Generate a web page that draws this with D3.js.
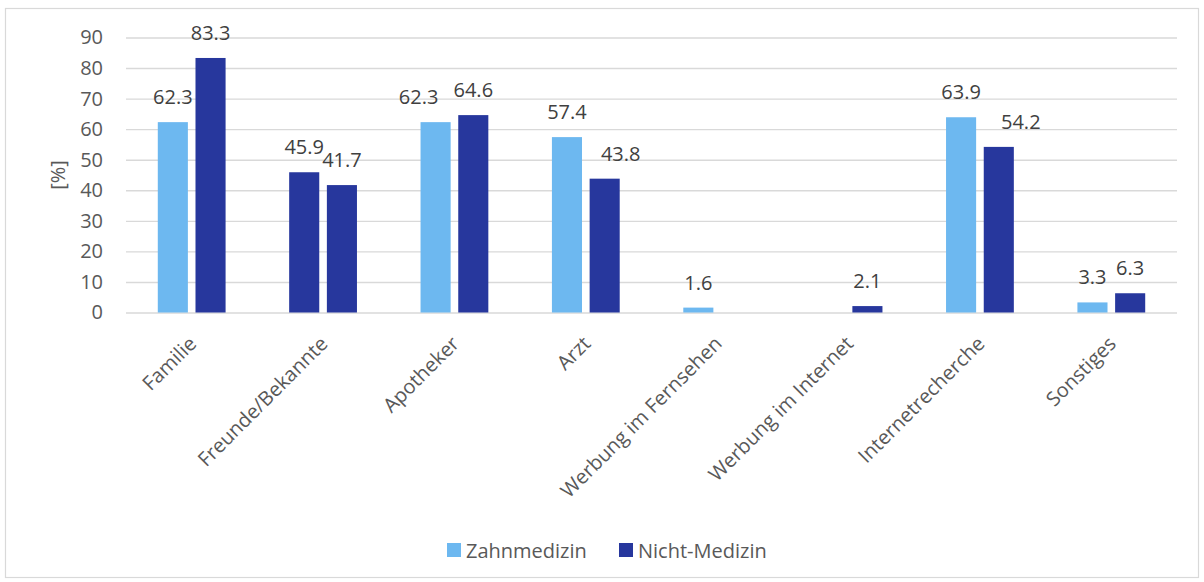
<!DOCTYPE html>
<html>
<head>
<meta charset="utf-8">
<script src="https://cdn.jsdelivr.net/npm/d3@7/dist/d3.min.js"></script>
<style>
  html, body { margin: 0; padding: 0; background: #fff; }
  svg { display: block; font-family: "Open Sans", "Noto Sans", sans-serif; }
</style>
</head>
<body>
<svg id="chart" width="1204" height="582"></svg>
<script>
// Sources of information, share of respondents per group (%)
const categories = ["Familie", "Freunde/Bekannte", "Apotheker", "Arzt",
  "Werbung im Fernsehen", "Werbung im Internet", "Internetrecherche", "Sonstiges"];
const seriesNames = ["Zahnmedizin", "Nicht-Medizin"];
const zahnmedizin  = [62.3, 45.9, 62.3, 57.4, 1.6, null, 63.9, 3.3];
const nichtMedizin = [83.3, 41.7, 64.6, 43.8, null, 2.1, 54.2, 6.3];
const yTicks = [0, 10, 20, 30, 40, 50, 60, 70, 80, 90];

// Styling
const colors = { "Zahnmedizin": "#6db8f0", "Nicht-Medizin": "#27379d" };
// individual bar fill that differs from its series colour
const fillOverride = { "Freunde/Bekannte|Zahnmedizin": "#27379d" };
// horizontal nudges for data labels that would otherwise collide
const labelNudge = {
  "Apotheker|Zahnmedizin": -17,
  "Arzt|Nicht-Medizin": 16,
  "Internetrecherche|Nicht-Medizin": 22
};
const fontSize = 20;

const svg = d3.select("#chart");
const plot = { left: 126, right: 1177, top: 37.5, bottom: 312.5 };

// outer frame
svg.append("rect")
  .attr("x", 5.5).attr("y", 8.5).attr("width", 1193).attr("height", 569)
  .attr("fill", "#fff").attr("stroke", "#d9d9d9").attr("stroke-width", 1.2);

const x = d3.scaleBand().domain(categories)
  .range([plot.left, plot.right]).paddingInner(0).paddingOuter(0);
const y = d3.scaleLinear().domain([0, 90]).range([plot.bottom, plot.top]);

const step = x.bandwidth();
const barW = step * 0.229;
const barGap = step * 0.058;
const xs = d3.scaleOrdinal().domain(seriesNames)
  .range([-(barGap / 2 + barW), barGap / 2]);

// gridlines and value axis
const yAxis = d3.axisLeft(y).tickValues(yTicks).tickSize(-(plot.right - plot.left));
const gy = svg.append("g").attr("transform", `translate(${plot.left},0)`).call(yAxis);
gy.select(".domain").remove();
gy.selectAll(".tick line").attr("stroke", "#d9d9d9").attr("stroke-width", 1.4);
gy.selectAll(".tick text").attr("fill", "#595959").attr("font-size", fontSize)
  .attr("font-family", "Open Sans").attr("x", -23);

// y-axis title
svg.append("text")
  .attr("transform", "translate(57,175) rotate(-90)")
  .attr("text-anchor", "middle").attr("dominant-baseline", "central")
  .attr("fill", "#595959").attr("font-size", fontSize).text("[%]");

const rows = [];
categories.forEach((c, i) => {
  [[seriesNames[0], zahnmedizin[i]], [seriesNames[1], nichtMedizin[i]]].forEach(([s, v]) => {
    if (v !== null) rows.push({ c, s, v });
  });
});

// bars
svg.append("g").selectAll("rect").data(rows).join("rect")
  .attr("x", d => x(d.c) + step / 2 + xs(d.s))
  .attr("y", d => y(d.v))
  .attr("width", barW)
  .attr("height", d => y(0) - y(d.v))
  .attr("fill", d => fillOverride[d.c + "|" + d.s] || colors[d.s]);

// data labels
svg.append("g").selectAll("text").data(rows).join("text")
  .attr("x", d => x(d.c) + step / 2 + xs(d.s) + barW / 2 + (labelNudge[d.c + "|" + d.s] || 0))
  .attr("y", d => y(d.v) - 18)
  .attr("text-anchor", "middle")
  .attr("fill", "#404040").attr("font-size", fontSize)
  .text(d => d3.format(".1f")(d.v));

// category labels, rotated
svg.append("g").selectAll("text").data(categories).join("text")
  .attr("transform", d => `translate(${x(d) + step / 2 + 1},${340}) rotate(-45)`)
  .attr("text-anchor", "end").attr("dy", "0.35em")
  .attr("fill", "#595959").attr("font-size", fontSize)
  .text(d => d);

// legend
const legend = svg.append("g");
const legendX = [447, 619];
seriesNames.forEach((s, i) => {
  legend.append("rect").attr("x", legendX[i]).attr("y", 543).attr("width", 14).attr("height", 14)
    .attr("fill", colors[s]);
  legend.append("text").attr("x", legendX[i] + 19).attr("y", 550)
    .attr("dominant-baseline", "central").attr("fill", "#595959").attr("font-size", fontSize)
    .text(s);
});
</script>
</body>
</html>
